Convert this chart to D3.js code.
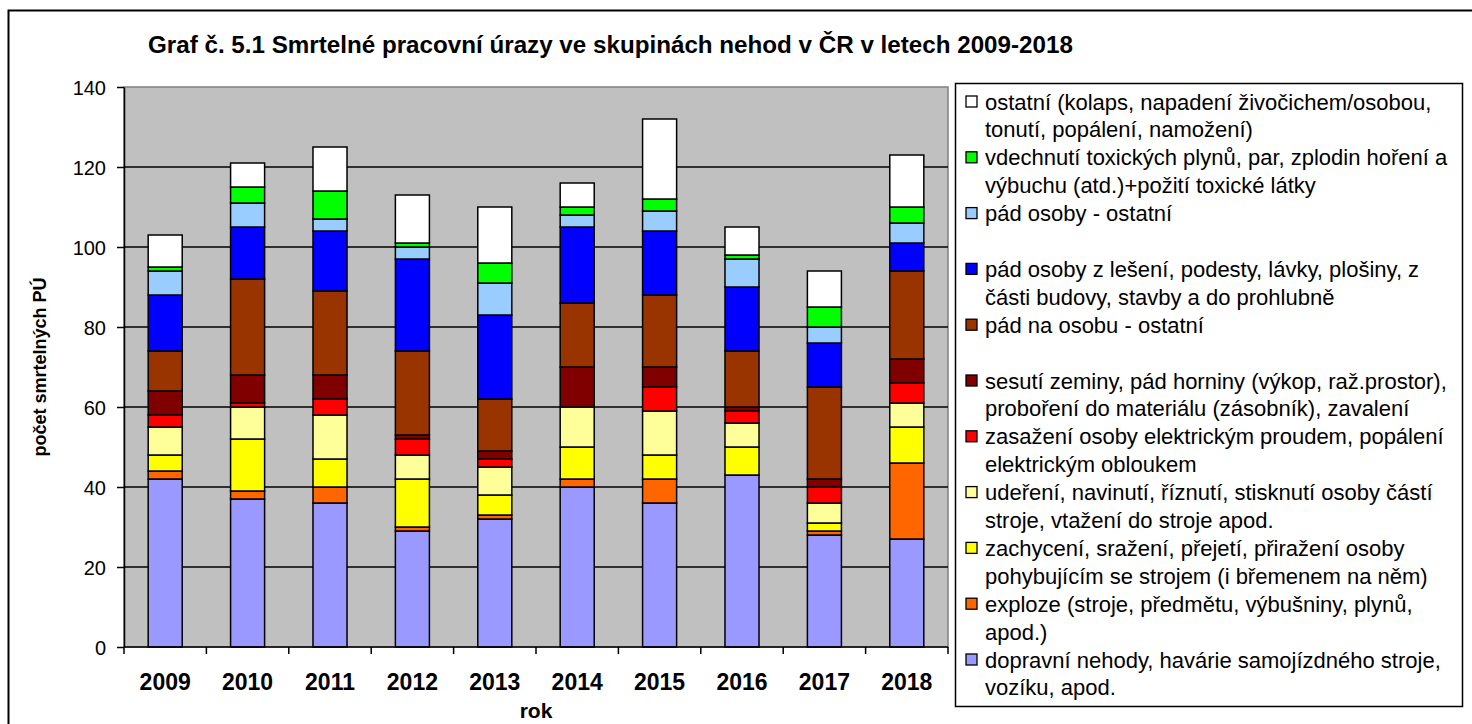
<!DOCTYPE html>
<html>
<head>
<meta charset="utf-8">
<script src="https://cdn.jsdelivr.net/npm/d3@7"></script>
<style>
  body { margin: 0; background: #fff; }
  svg { display: block; font-family: "Liberation Sans", Arial, sans-serif; }
</style>
</head>
<body>
<svg id="chart" width="1472" height="724"></svg>
<script>
// data (2009-2018), bottom segment first
const years = ['2009', '2010', '2011', '2012', '2013', '2014', '2015', '2016', '2017', '2018'];
const dopravni   = [42, 37, 36, 29, 32, 40, 36, 43, 28, 27];
const exploze    = [2, 2, 4, 1, 1, 2, 6, 0, 1, 19];
const zachyceni  = [4, 13, 7, 12, 5, 8, 6, 7, 2, 9];
const udereni    = [7, 8, 11, 6, 7, 10, 11, 6, 5, 6];
const zasazeni   = [3, 1, 4, 4, 2, 0, 6, 3, 4, 5];
const sesuti     = [6, 7, 6, 1, 2, 10, 5, 1, 2, 6];
const padNaOsobu = [10, 24, 21, 21, 13, 16, 18, 14, 23, 22];
const padLeseni  = [14, 13, 15, 23, 21, 19, 16, 16, 11, 7];
const padOstatni = [6, 6, 3, 3, 8, 3, 5, 7, 4, 5];
const vdechnuti  = [1, 4, 7, 1, 5, 2, 3, 1, 5, 4];
const ostatni    = [8, 6, 11, 12, 14, 6, 20, 7, 9, 13];
const yTicks = [0, 20, 40, 60, 80, 100, 120, 140];

const title = 'Graf č. 5.1 Smrtelné pracovní úrazy ve skupinách nehod v ČR v letech 2009-2018';
const yTitle = 'počet smrtelných PÚ';
const xTitle = 'rok';

// series, stacking order (bottom -> top)
const series = [
  {key: 'dopravni', values: dopravni, color: '#9999FF', label: ['dopravní nehody, havárie samojízdného stroje,', 'vozíku, apod.']},
  {key: 'exploze', values: exploze, color: '#FF6600', label: ['exploze (stroje, předmětu, výbušniny, plynů,', 'apod.)']},
  {key: 'zachyceni', values: zachyceni, color: '#FFFF00', label: ['zachycení, sražení, přejetí, přiražení osoby', 'pohybujícím se strojem (i břemenem na něm)']},
  {key: 'udereni', values: udereni, color: '#FFFF99', label: ['udeření, navinutí, říznutí, stisknutí osoby částí', 'stroje, vtažení do stroje apod.']},
  {key: 'zasazeni', values: zasazeni, color: '#FF0000', label: ['zasažení osoby elektrickým proudem, popálení', 'elektrickým obloukem']},
  {key: 'sesuti', values: sesuti, color: '#800000', label: ['sesutí zeminy, pád horniny (výkop, raž.prostor),', 'proboření do materiálu (zásobník), zavalení']},
  {key: 'padNaOsobu', values: padNaOsobu, color: '#993300', label: ['pád na osobu - ostatní']},
  {key: 'padLeseni', values: padLeseni, color: '#0000FF', label: ['pád osoby z lešení, podesty, lávky, plošiny, z', 'části budovy, stavby a do prohlubně']},
  {key: 'padOstatni', values: padOstatni, color: '#99CCFF', label: ['pád osoby - ostatní']},
  {key: 'vdechnuti', values: vdechnuti, color: '#00FF00', label: ['vdechnutí toxických plynů, par, zplodin hoření a', 'výbuchu (atd.)+požití toxické látky']},
  {key: 'ostatni', values: ostatni, color: '#FFFFFF', label: ['ostatní (kolaps, napadení živočichem/osobou,', 'tonutí, popálení, namožení)']}
];

const table = years.map((yr, i) => {
  const row = {year: yr};
  series.forEach(s => { row[s.key] = s.values[i]; });
  return row;
});

const svg = d3.select('#chart');
const plot = {left: 124, top: 87, right: 948, bottom: 647};

// outer frame
svg.append('rect')
  .attr('x', 8.5).attr('y', 10.5).attr('width', 1470).attr('height', 720)
  .attr('fill', '#fff').attr('stroke', '#000').attr('stroke-width', 2);

// title
svg.append('text')
  .attr('x', 148).attr('y', 53)
  .attr('font-size', 24.2).attr('font-weight', 'bold')
  .text(title);

const x = d3.scaleBand()
  .domain(years)
  .range([plot.left, plot.right])
  .paddingInner(0.587)
  .paddingOuter(0.2935);

const y = d3.scaleLinear()
  .domain([0, 140])
  .range([plot.bottom, plot.top]);

// plot background
svg.append('rect')
  .attr('x', plot.left).attr('y', plot.top)
  .attr('width', plot.right - plot.left).attr('height', plot.bottom - plot.top)
  .attr('fill', '#C0C0C0').attr('stroke', '#808080').attr('stroke-width', 1.5);

// gridlines
svg.append('g')
  .selectAll('line')
  .data(yTicks.filter(t => t > 0 && t < 140))
  .enter().append('line')
  .attr('x1', plot.left).attr('x2', plot.right)
  .attr('y1', d => y(d)).attr('y2', d => y(d))
  .attr('stroke', '#000').attr('stroke-width', 1.3);

// stacked bars
const stacked = d3.stack().keys(series.map(s => s.key))(table);
const colorOf = d3.scaleOrdinal().domain(series.map(s => s.key)).range(series.map(s => s.color));

svg.append('g')
  .selectAll('g')
  .data(stacked)
  .enter().append('g')
  .attr('fill', d => colorOf(d.key))
  .selectAll('rect')
  .data(d => d.filter(p => p[1] - p[0] > 0))
  .enter().append('rect')
  .attr('x', d => x(d.data.year))
  .attr('y', d => y(d[1]))
  .attr('width', x.bandwidth())
  .attr('height', d => y(d[0]) - y(d[1]))
  .attr('stroke', '#000').attr('stroke-width', 1.5);

// y axis
const yAxis = svg.append('g')
  .attr('transform', `translate(${plot.left},0)`)
  .call(d3.axisLeft(y).tickValues(yTicks).tickSize(7).tickPadding(11).tickSizeOuter(0));
yAxis.select('.domain').attr('stroke', '#000').attr('stroke-width', 1.5);
yAxis.selectAll('.tick line').attr('stroke', '#000').attr('stroke-width', 1.5);
yAxis.selectAll('.tick text')
  .attr('font-size', 20).attr('font-family', '"Liberation Sans", Arial, sans-serif')
  .attr('fill', '#000').attr('dy', '0.36em');

// x axis: line, boundary ticks, year labels
const xg = svg.append('g');
xg.append('line')
  .attr('x1', plot.left).attr('x2', plot.right)
  .attr('y1', plot.bottom).attr('y2', plot.bottom)
  .attr('stroke', '#000').attr('stroke-width', 1.5);
const bounds = d3.range(years.length + 1).map(i => x(years[0]) - x.step() * x.paddingOuter() + i * x.step());
xg.selectAll('line.tk')
  .data(bounds)
  .enter().append('line')
  .attr('class', 'tk')
  .attr('x1', d => d).attr('x2', d => d)
  .attr('y1', plot.bottom).attr('y2', plot.bottom + 7)
  .attr('stroke', '#000').attr('stroke-width', 1.5);
xg.selectAll('text')
  .data(years)
  .enter().append('text')
  .attr('x', d => x(d) + x.bandwidth() / 2)
  .attr('y', 690)
  .attr('text-anchor', 'middle')
  .attr('font-size', 23).attr('font-weight', 'bold')
  .text(d => d);

// axis titles
svg.append('text')
  .attr('x', (plot.left + plot.right) / 2).attr('y', 718)
  .attr('text-anchor', 'middle')
  .attr('font-size', 21).attr('font-weight', 'bold')
  .text(xTitle);

svg.append('text')
  .attr('transform', `translate(46,${(plot.top + plot.bottom) / 2}) rotate(-90)`)
  .attr('text-anchor', 'middle')
  .attr('font-size', 18).attr('font-weight', 'bold')
  .text(yTitle);

// legend, top entry first, two line slots per entry
const legend = svg.append('g');
legend.append('rect')
  .attr('x', 955.5).attr('y', 83.5).attr('width', 507).attr('height', 623)
  .attr('fill', '#fff').attr('stroke', '#000').attr('stroke-width', 1.5);

const lineStep = 27.9;
const firstLine = 101.5;
const legendItems = series.slice().reverse();
const items = legend.selectAll('g.item')
  .data(legendItems)
  .enter().append('g')
  .attr('class', 'item')
  .attr('transform', (d, i) => `translate(0,${firstLine + i * 2 * lineStep})`);

items.append('rect')
  .attr('x', 966).attr('y', -5.5).attr('width', 11).attr('height', 11)
  .attr('fill', d => d.color).attr('stroke', '#000').attr('stroke-width', 1.3);

items.each(function (d) {
  const g = d3.select(this);
  d.label.forEach((ln, j) => {
    g.append('text')
      .attr('x', 985).attr('y', j * lineStep + 8)
      .attr('font-size', 22)
      .text(ln);
  });
});
</script>
</body>
</html>
